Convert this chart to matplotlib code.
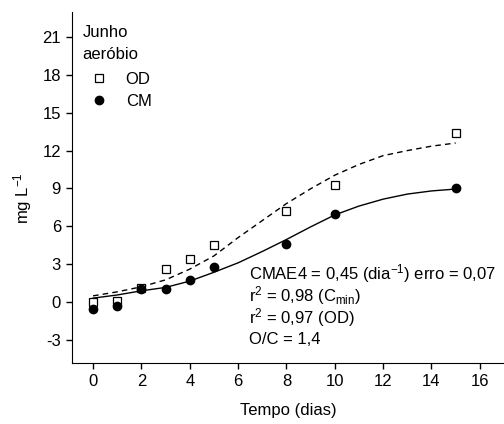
import matplotlib
matplotlib.use("Agg")
import matplotlib.pyplot as plt
from matplotlib.lines import Line2D

plt.rcParams['font.family'] = ['Liberation Sans', 'DejaVu Sans']
plt.rcParams['mathtext.fontset'] = 'custom'
plt.rcParams['mathtext.rm'] = 'Liberation Sans'
plt.rcParams['axes.unicode_minus'] = False
plt.rcParams['font.size'] = 12

# measured points (mg/L)
dias = [0, 1, 2, 3, 4, 5, 8, 10, 15]
od = [0.0, 0.1, 1.1, 2.6, 3.4, 4.5, 7.2, 9.3, 13.4]
cm = [-0.6, -0.3, 1.0, 1.0, 1.7, 2.8, 4.6, 7.0, 9.0]

# fitted curves at each day
curva_x = [0, 1, 2, 3, 4, 5, 6, 7, 8, 9, 10, 11, 12, 13, 14, 15]
curva_od = [0.48, 0.8, 1.2, 1.75, 2.6, 3.65, 5.1, 6.45, 7.8, 8.97, 10.05, 10.9,
            11.6, 12.0, 12.35, 12.6]
curva_cm = [0.3, 0.55, 0.88, 1.15, 1.65, 2.35, 3.1, 4.0, 4.95, 5.95, 6.9, 7.6,
            8.15, 8.55, 8.8, 8.95]

x_ticks = [0, 2, 4, 6, 8, 10, 12, 14, 16]
y_ticks = [-3, 0, 3, 6, 9, 12, 15, 18, 21]

fig = plt.figure(figsize=(5.04, 4.24), dpi=100)
ax = fig.add_axes([0.143, 0.144, 0.857, 0.828])

ax.plot(curva_x, curva_od, color='black', lw=1, ls=(0, (4, 3)))
ax.plot(curva_x, curva_cm, color='black', lw=1)
ax.plot(dias, od, ls='none', marker='s', ms=5.2, mfc='white', mec='black', mew=0.9)
ax.plot(dias, cm, ls='none', marker='o', ms=6, mfc='black', mec='black')

ax.set_xlim(-0.87, 17.0)
ax.set_ylim(-4.84, 23.0)
ax.set_xticks(x_ticks)
ax.set_yticks(y_ticks)
ax.spines['top'].set_visible(False)
ax.spines['right'].set_visible(False)
ax.tick_params(direction='out', length=4, width=1, pad=4)
ax.set_xlabel('Tempo (dias)', labelpad=10)
ax.set_ylabel('mg L$\\mathregular{^{-1}}$')
ax.yaxis.set_label_coords(-0.088, 0.47)

ax.text(0.024, 0.962, 'Junho\naeróbio', transform=ax.transAxes, va='top',
        ha='left', linespacing=1.55)
handles = [
    Line2D([], [], ls='none', marker='s', ms=5.2, mfc='white', mec='black', mew=0.9),
    Line2D([], [], ls='none', marker='o', ms=6, mfc='black', mec='black'),
]
ax.legend(handles, ['OD', 'CM'], loc='upper left', bbox_to_anchor=(0.043, 0.83),
          frameon=False, handlelength=1.0, handletextpad=1.1, labelspacing=0.45,
          borderpad=0, borderaxespad=0)

notas = ['CMAE4 = 0,45 (dia$\\mathregular{^{-1}}$) erro = 0,07',
         'r$\\mathregular{^{2}}$ = 0,98 (C$\\mathregular{_{min}}$)',
         'r$\\mathregular{^{2}}$ = 0,97 (OD)',
         'O/C = 1,4']
for i, t in enumerate(notas):
    ax.text(6.45, 2.25 - i * 1.75, t, va='center', ha='left')

fig.savefig('out.png', dpi=100)
